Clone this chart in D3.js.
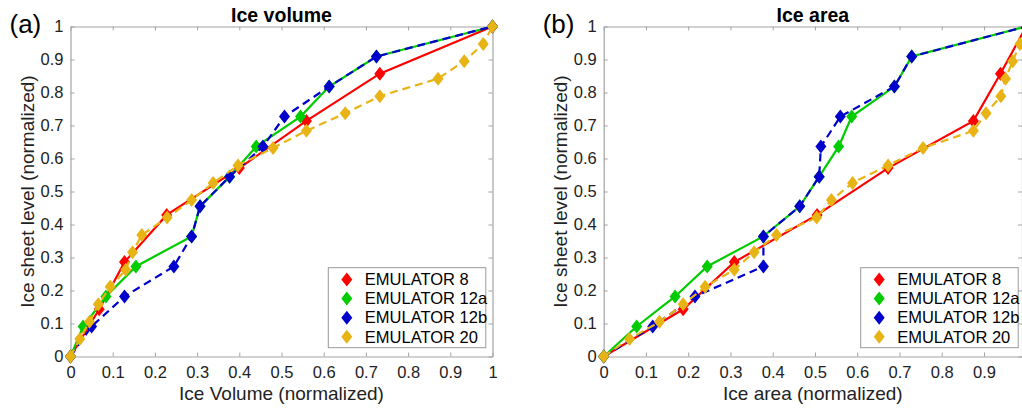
<!DOCTYPE html>
<html>
<head>
<meta charset="utf-8">
<script src="https://cdn.jsdelivr.net/npm/d3@7"></script>
<style>
  html, body { margin: 0; padding: 0; background: #fff; }
  svg { display: block; font-family: "Liberation Sans", Arial, Helvetica, sans-serif; }
</style>
</head>
<body>
<svg id="chart" width="1022" height="409"></svg>
<script>
// ---------------- data ----------------
const seriesNames = ["EMULATOR 8", "EMULATOR 12a", "EMULATOR 12b", "EMULATOR 20"];
const seriesColors = ["#ff0000", "#00cc00", "#0000cc", "#e8b314"];
const seriesDash = [null, null, "8,5", "8,5"];

// normalized ice sheet levels (y)
const levels8  = [0, 0.143, 0.286, 0.429, 0.571, 0.714, 0.857, 1];
const levels12 = [0, 0.091, 0.182, 0.273, 0.364, 0.455, 0.545, 0.636, 0.727, 0.818, 0.909, 1];
const levels20 = [0, 0.053, 0.105, 0.158, 0.211, 0.263, 0.316, 0.368, 0.421, 0.474, 0.526,
                  0.579, 0.632, 0.684, 0.737, 0.789, 0.842, 0.895, 0.947, 1];

// panel (a): ice volume (x)
const vol8   = [0, 0.068, 0.128, 0.228, 0.400, 0.559, 0.733, 1];
const vol12a = [0, 0.030, 0.084, 0.155, 0.287, 0.307, 0.377, 0.440, 0.545, 0.613, 0.725, 1];
const vol12b = [0, 0.050, 0.128, 0.245, 0.287, 0.307, 0.377, 0.456, 0.507, 0.613, 0.725, 1];
const vol20  = [0, 0.022, 0.045, 0.066, 0.094, 0.131, 0.147, 0.169, 0.229, 0.287, 0.338,
                0.397, 0.480, 0.559, 0.651, 0.733, 0.871, 0.933, 0.978, 1];

// panel (b): ice area (x)
const area8   = [0, 0.188, 0.309, 0.505, 0.673, 0.875, 0.939, 1];
const area12a = [0, 0.078, 0.169, 0.245, 0.378, 0.464, 0.510, 0.556, 0.587, 0.688, 0.729, 1];
const area12b = [0, 0.116, 0.216, 0.378, 0.378, 0.464, 0.510, 0.514, 0.560, 0.688, 0.729, 1];
const area20  = [0, 0.061, 0.132, 0.188, 0.240, 0.309, 0.356, 0.409, 0.504, 0.539, 0.589,
                 0.673, 0.756, 0.875, 0.905, 0.940, 0.951, 0.968, 0.985, 1];

const ticksA = [0, 0.1, 0.2, 0.3, 0.4, 0.5, 0.6, 0.7, 0.8, 0.9, 1];
const ticksB = [0, 0.1, 0.2, 0.3, 0.4, 0.5, 0.6, 0.7, 0.8, 0.9];
const ticksY = [0, 0.1, 0.2, 0.3, 0.4, 0.5, 0.6, 0.7, 0.8, 0.9, 1];

const panels = [
  { tag: "(a)", title: "Ice volume", xlabel: "Ice Volume (normalized)",
    xs: [vol8, vol12a, vol12b, vol20], xmax: 1, xticks: ticksA,
    left: 70.5, right: 492.5 },
  { tag: "(b)", title: "Ice area", xlabel: "Ice area (normalized)",
    xs: [area8, area12a, area12b, area20], xmax: 0.99, xticks: ticksB,
    left: 603.7, right: 1022 }
];
const ys = [levels8, levels12, levels12, levels20];

// ---------------- drawing ----------------
const svg = d3.select("#chart");
const yTop = 26.5, yBottom = 356.5;
const frameColor = "#a3a3a3";
const textColor = "#222";

function diamond(w, h) {
  return `M0,${-h/2}L${w/2},0L0,${h/2}L${-w/2},0Z`;
}

panels.forEach((p, pi) => {
  const x = d3.scaleLinear().domain([0, p.xmax]).range([p.left, p.right]);
  const y = d3.scaleLinear().domain([0, 1]).range([yBottom, yTop]);
  const g = svg.append("g");

  const fmt = d => (d === 0 || d === 1) ? String(d) : d3.format(".1f")(d);

  // axes (inward ticks, MATLAB box)
  const ax = [
    g.append("g").attr("transform", `translate(0,${yBottom})`)
      .call(d3.axisBottom(x).tickValues(p.xticks).tickFormat(fmt).tickSizeInner(-4).tickSizeOuter(0).tickPadding(9.5)),
    g.append("g").attr("transform", `translate(0,${yTop})`)
      .call(d3.axisTop(x).tickValues(p.xticks).tickFormat("").tickSizeInner(-4).tickSizeOuter(0)),
    g.append("g").attr("transform", `translate(${p.left},0)`)
      .call(d3.axisLeft(y).tickValues(ticksY).tickFormat(fmt).tickSizeInner(-4).tickSizeOuter(0).tickPadding(7)),
    g.append("g").attr("transform", `translate(${p.right},0)`)
      .call(d3.axisRight(y).tickValues(ticksY).tickFormat("").tickSizeInner(-4).tickSizeOuter(0))
  ];
  ax.forEach(a => {
    a.select(".domain").attr("stroke", frameColor).attr("stroke-width", 1.2);
    a.selectAll(".tick line").attr("stroke", frameColor).attr("stroke-width", 1);
    a.selectAll(".tick text").attr("fill", textColor).attr("font-size", 16.5)
      .attr("font-family", "'Liberation Sans', Arial, sans-serif");
  });

  // clip
  const clipId = "clip" + pi;
  svg.append("clipPath").attr("id", clipId).append("rect")
    .attr("x", p.left - 8).attr("y", yTop - 8)
    .attr("width", p.right - p.left + 16).attr("height", yBottom - yTop + 16);
  const clipLine = "lclip" + pi;
  svg.append("clipPath").attr("id", clipLine).append("rect")
    .attr("x", p.left).attr("y", yTop - 2)
    .attr("width", p.right - p.left).attr("height", yBottom - yTop + 4);

  const plot = g.append("g");

  p.xs.forEach((xv, si) => {
    const pts = xv.map((v, i) => [v, ys[si][i]]);
    const line = d3.line().x(d => x(d[0])).y(d => y(d[1]));
    const sg = plot.append("g");
    sg.append("path").attr("d", line(pts))
      .attr("fill", "none").attr("stroke", seriesColors[si]).attr("stroke-width", 2.2)
      .attr("stroke-dasharray", seriesDash[si])
      .attr("clip-path", `url(#${clipLine})`);
    sg.append("g").attr("clip-path", `url(#${clipId})`)
      .selectAll("path").data(pts.filter(d => d[0] <= p.xmax)).join("path")
      .attr("transform", d => `translate(${x(d[0])},${y(d[1])})`)
      .attr("d", diamond(11, 14))
      .attr("fill", seriesColors[si]);
  });

  // title, labels
  g.append("text").attr("x", (p.left + p.right) / 2).attr("y", 21.5)
    .attr("text-anchor", "middle").attr("font-weight", "bold").attr("font-size", 19.5)
    .attr("fill", "#000").text(p.title);
  g.append("text").attr("x", (p.left + p.right) / 2).attr("y", 400)
    .attr("text-anchor", "middle").attr("font-size", 19).attr("fill", textColor).text(p.xlabel);
  g.append("text")
    .attr("transform", `translate(${p.left - 37},${(yTop + yBottom) / 2}) rotate(-90)`)
    .attr("text-anchor", "middle").attr("font-size", 19).attr("fill", textColor)
    .text("Ice sheet level (normalized)");
  g.append("text").attr("x", p.left - 61).attr("y", 33)
    .attr("font-size", 26).attr("fill", "#000").text(p.tag);

  // legend
  const lx = pi === 0 ? 328.3 : 860.7;
  const lw = 157.5, ly = 267.7, lh = 80;
  const leg = g.append("g");
  leg.append("rect").attr("x", lx).attr("y", ly).attr("width", lw).attr("height", lh)
    .attr("fill", "#fff").attr("stroke", "#999").attr("stroke-width", 1);
  seriesNames.forEach((name, si) => {
    const ry = ly + 11.8 + si * 19.1;
    leg.append("path").attr("transform", `translate(${lx + 18.5},${ry})`)
      .attr("d", diamond(11, 14)).attr("fill", seriesColors[si]);
    leg.append("text").attr("x", lx + 36.5).attr("y", ry).attr("dy", "0.35em")
      .attr("font-size", 16.5).attr("fill", "#000").text(name);
  });
});
</script>
</body>
</html>
